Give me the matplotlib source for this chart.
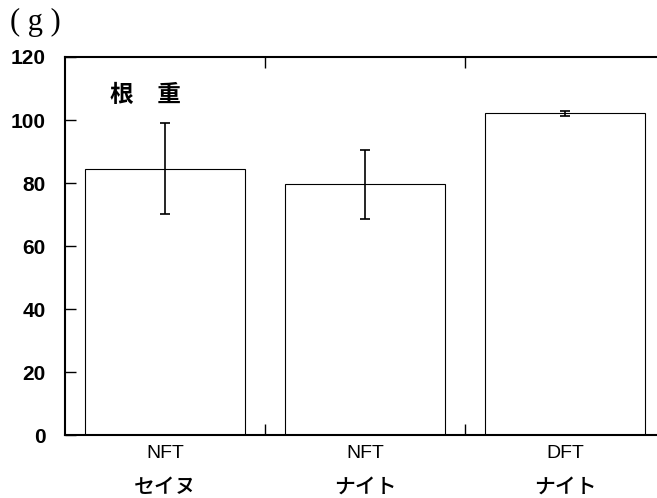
import matplotlib
matplotlib.use('Agg')
import matplotlib.pyplot as plt

categories = ['NFT\nセイヌ', 'NFT\nナイト', 'DFT\nナイト']
root_weight = [84.6, 79.6, 102.1]
errors = [14.5, 11.0, 0.9]
yticks = [0, 20, 40, 60, 80, 100, 120]

plt.rcParams['font.family'] = ['Liberation Sans', 'Noto Sans CJK JP', 'DejaVu Sans']

fig = plt.figure(figsize=(6.57, 4.98), dpi=100)
# right spine runs off the picture in the original scan
ax = fig.add_axes([65 / 657, 63 / 498, 600 / 657, 378 / 498])

x = range(len(categories))
ax.bar(x, root_weight, width=0.8, color='white', edgecolor='black', linewidth=0.8,
       yerr=errors, capsize=3.5, error_kw={'elinewidth': 1.2, 'capthick': 1.2})

ax.set_xlim(-0.5, 2.5)
ax.set_ylim(0, 120)
ax.set_yticks(yticks)
ax.set_yticklabels([str(v) for v in yticks], fontsize=15, fontweight='bold')
ax.tick_params(axis='y', direction='in', length=8, width=1, pad=14)

# separator ticks between the groups
ax.set_xticks([0.5, 1.5])
ax.set_xticklabels([])
ax.tick_params(axis='x', direction='in', length=8, width=1, top=True)

for i, lab in enumerate(categories):
    nft, kana = lab.split('\n')
    ax.text(i, -3.3, nft, ha='center', va='top', fontsize=14)
    ax.text(i, -13.0, kana, ha='center', va='top', fontsize=15, fontweight='medium',
            family=['Noto Sans CJK JP'])

for sp in ax.spines.values():
    sp.set_linewidth(1.5)

ax.text(0.075, 0.9, '根　重', transform=ax.transAxes, fontsize=17, fontweight='bold',
        family=['Noto Sans CJK JP'], ha='left', va='center')
fig.text(10 / 657, 1 - 22 / 498, '( g )', fontsize=22, family=['Liberation Serif'],
         ha='left', va='center')

fig.savefig('out.png', dpi=100)
